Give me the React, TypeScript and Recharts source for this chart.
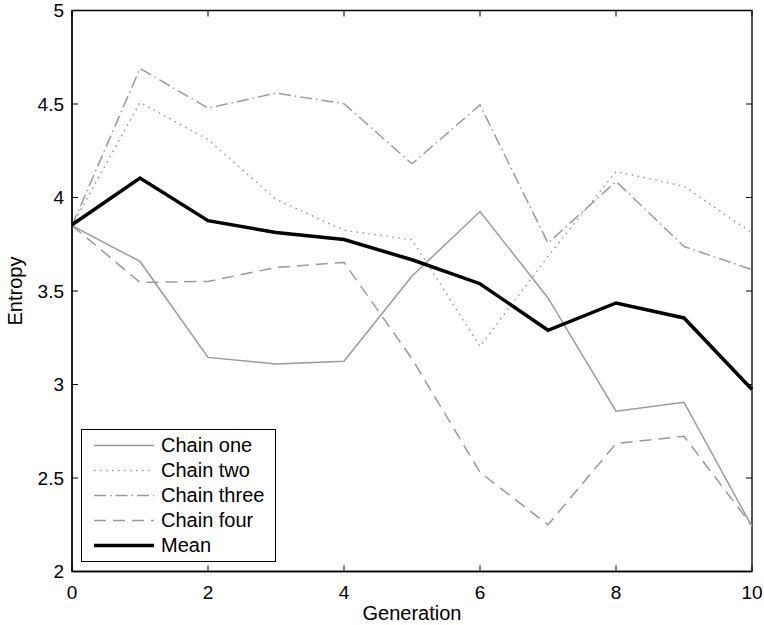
import React from 'react';
import { LineChart, Line, XAxis, YAxis, Legend, ReferenceArea } from 'recharts';

const generations = [0, 1, 2, 3, 4, 5, 6, 7, 8, 9, 10];
const chainOne = [3.85, 3.658, 3.145, 3.11, 3.124, 3.58, 3.925, 3.463, 2.857, 2.905, 2.24];
const chainTwo = [3.85, 4.508, 4.31, 3.99, 3.825, 3.774, 3.204, 3.685, 4.139, 4.06, 3.81];
const chainThree = [3.85, 4.69, 4.478, 4.558, 4.502, 4.18, 4.495, 3.756, 4.086, 3.738, 3.614];
const chainFour = [3.85, 3.546, 3.551, 3.626, 3.653, 3.138, 2.53, 2.25, 2.684, 2.723, 2.245];
const meanValues = [3.854, 4.104, 3.876, 3.813, 3.775, 3.667, 3.539, 3.29, 3.436, 3.356, 2.973];

const xTicks = [0, 2, 4, 6, 8, 10];
const yTicks = [2, 2.5, 3, 3.5, 4, 4.5, 5];

const seriesNames = ['Chain one', 'Chain two', 'Chain three', 'Chain four', 'Mean'];

const data = generations.map((g, i) => ({
  gen: g,
  one: chainOne[i],
  two: chainTwo[i],
  three: chainThree[i],
  four: chainFour[i],
  mean: meanValues[i],
}));

const GRAY = '#9a9a9a';
const FONT = '"Liberation Sans", Arial, Helvetica, sans-serif';

const W = 764;
const H = 625;
const M = { top: 10.5, right: 12, bottom: 0, left: 12 };
const Y_AXIS_W = 60;
const X_AXIS_H = 53.5;
const PLOT_LEFT = M.left + Y_AXIS_W;
const PLOT_RIGHT = W - M.right;
const PLOT_TOP = M.top;
const PLOT_BOTTOM = H - X_AXIS_H;
const TICK_LEN = 6;

const styles: Record<string, { stroke: string; width: number; dash?: string }> = {
  one: { stroke: GRAY, width: 1.5 },
  two: { stroke: GRAY, width: 1.5, dash: '1.5 4.5' },
  three: { stroke: GRAY, width: 1.5, dash: '12 4 1.5 4' },
  four: { stroke: GRAY, width: 1.5, dash: '12 7' },
  mean: { stroke: '#000', width: 3.5 },
};

const keys = ['one', 'two', 'three', 'four', 'mean'];

const XTick = (props: any) => {
  const { x, y, payload } = props;
  return (
    <g>
      <line x1={x} x2={x} y1={PLOT_BOTTOM} y2={PLOT_BOTTOM - TICK_LEN} stroke="#000" strokeWidth={1} />
      <line x1={x} x2={x} y1={PLOT_TOP} y2={PLOT_TOP + TICK_LEN} stroke="#000" strokeWidth={1} />
      <text x={x} y={y + 20.5} textAnchor="middle" dominantBaseline="central" fontSize={19} fontFamily={FONT} fill="#000">
        {String(payload.value)}
      </text>
    </g>
  );
};

const YTick = (props: any) => {
  const { x, y, payload } = props;
  return (
    <g>
      <line x1={PLOT_LEFT} x2={PLOT_LEFT + TICK_LEN} y1={y} y2={y} stroke="#000" strokeWidth={1} />
      <line x1={PLOT_RIGHT} x2={PLOT_RIGHT - TICK_LEN} y1={y} y2={y} stroke="#000" strokeWidth={1} />
      <text x={PLOT_LEFT - 8} y={y} textAnchor="end" dominantBaseline="central" fontSize={19} fontFamily={FONT} fill="#000">
        {String(payload.value)}
      </text>
    </g>
  );
};

const LegendBox = (props: any) => {
  const payload = [...(props.payload || [])].sort(
    (a: any, b: any) => keys.indexOf(a.dataKey) - keys.indexOf(b.dataKey)
  );
  return (
    <div
      style={{
        width: 195,
        height: 133,
        boxSizing: 'border-box',
        border: '1.3px solid #000',
        background: '#fff',
        paddingTop: 3,
        fontFamily: FONT,
        fontSize: 20,
        color: '#000',
      }}
    >
      {payload.map((item: any) => {
        const s = styles[item.dataKey as string];
        return (
          <div key={item.dataKey} style={{ height: 25, display: 'flex', alignItems: 'center', lineHeight: '25px' }}>
            <svg width={79} height={25} style={{ display: 'block' }}>
              <line x1={12} x2={72} y1={12.5} y2={12.5} stroke={s.stroke} strokeWidth={s.width} strokeDasharray={s.dash} />
            </svg>
            <span style={{ whiteSpace: 'nowrap' }}>{item.value}</span>
          </div>
        );
      })}
    </div>
  );
};

export default function App() {
  return (
    <div style={{ position: 'absolute', left: 0, top: 0, background: '#fff' }}>
      <LineChart width={W} height={H} data={data} margin={M}>
        <XAxis
          dataKey="gen"
          type="number"
          domain={[0, 10]}
          ticks={xTicks}
          height={X_AXIS_H}
          tickSize={0}
          tickMargin={0}
          tickLine={false}
          axisLine={{ stroke: '#000', strokeWidth: 1.3 }}
          tick={<XTick />}
          label={{
            content: (p: any) => {
              const vb = p.viewBox;
              return (
                <text x={vb.x + vb.width / 2} y={613} textAnchor="middle" dominantBaseline="central" fontSize={20} fontFamily={FONT} fill="#000">
                  Generation
                </text>
              );
            },
          }}
        />
        <YAxis
          type="number"
          domain={[2, 5]}
          ticks={yTicks}
          width={Y_AXIS_W}
          tickSize={0}
          tickMargin={0}
          tickLine={false}
          axisLine={{ stroke: '#000', strokeWidth: 1.3 }}
          tick={<YTick />}
          label={{
            content: (p: any) => {
              const vb = p.viewBox;
              const cy = vb.y + vb.height / 2;
              return (
                <text x={15} y={cy} transform={`rotate(-90 15 ${cy})`} textAnchor="middle" dominantBaseline="central" fontSize={20} fontFamily={FONT} fill="#000">
                  Entropy
                </text>
              );
            },
          }}
        />
        <ReferenceArea x1={0} x2={10} y1={2} y2={5} fill="none" stroke="#000" strokeWidth={1.3} ifOverflow="visible" />
        {keys.map((k, i) => (
          <Line
            key={k}
            dataKey={k}
            name={seriesNames[i]}
            type="linear"
            stroke={styles[k].stroke}
            strokeWidth={styles[k].width}
            strokeDasharray={styles[k].dash}
            dot={false}
            activeDot={false}
            isAnimationActive={false}
          />
        ))}
        <Legend
          layout="vertical"
          align="center"
          verticalAlign="middle"
          content={<LegendBox />}
          wrapperStyle={{ left: 81, top: 429, right: 'auto', bottom: 'auto', width: 195, height: 133 }}
        />
      </LineChart>
    </div>
  );
}
